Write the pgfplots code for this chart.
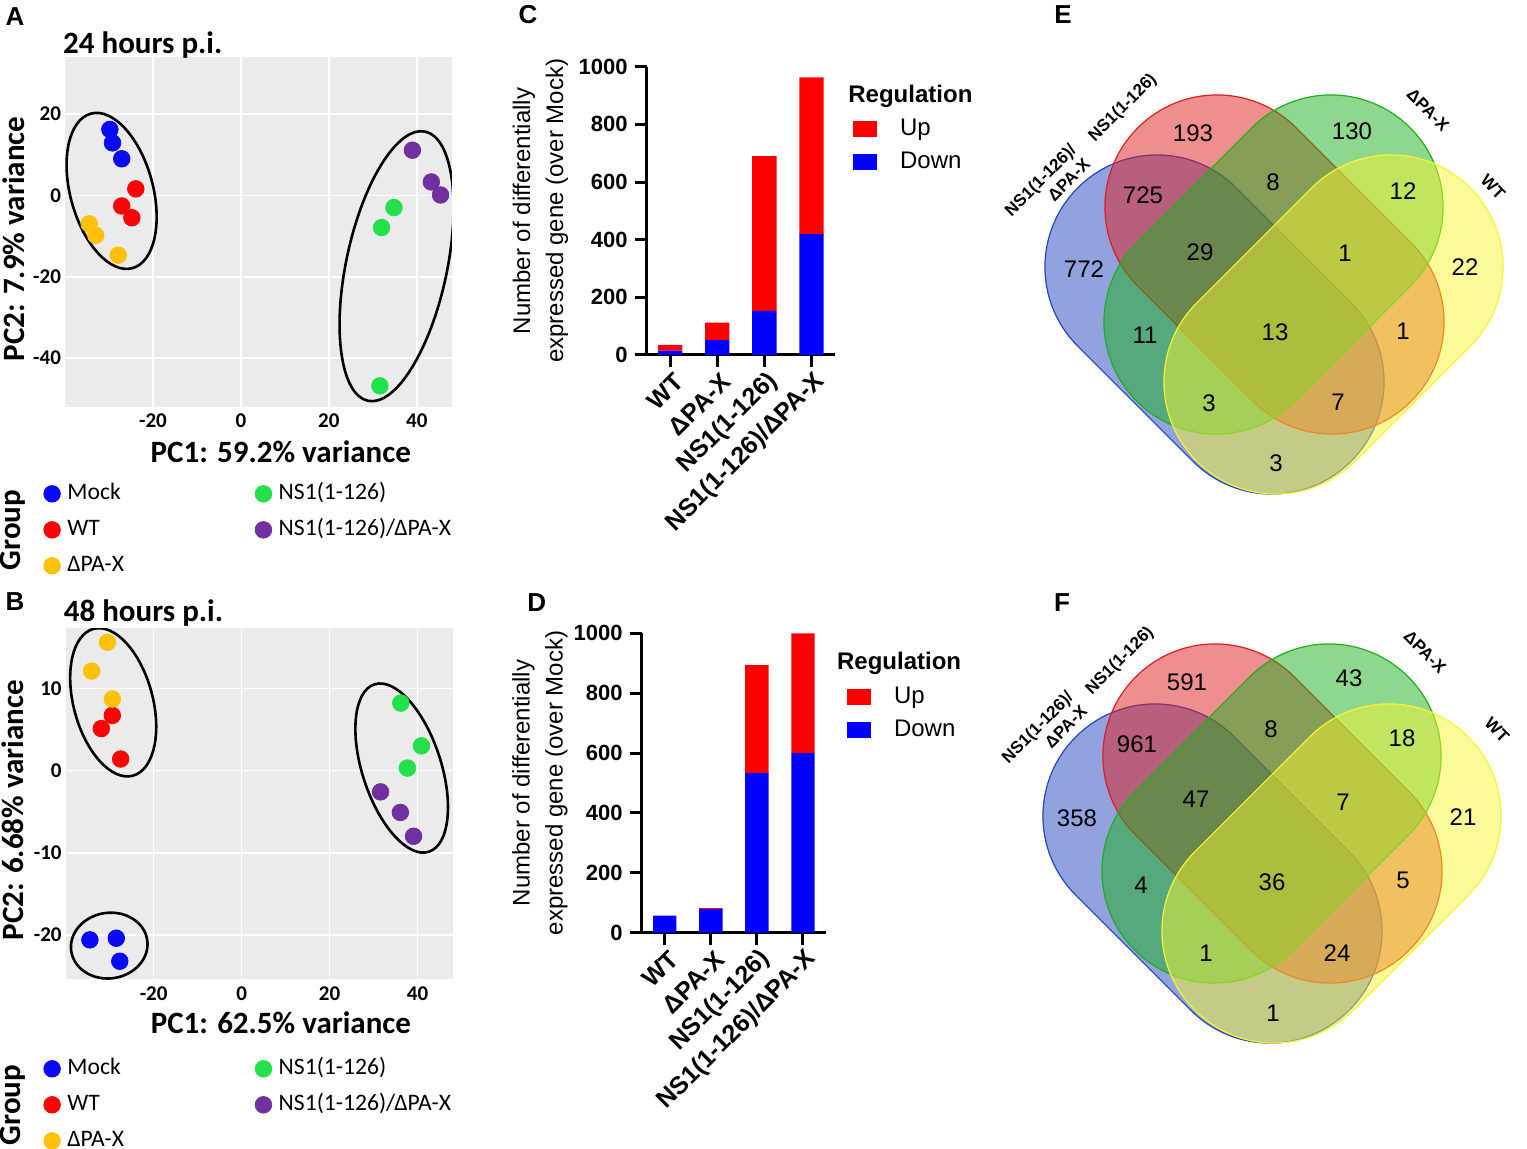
\documentclass[border=0pt]{standalone}
\usepackage{fontspec}
\setmainfont{Liberation Sans}
\newfontfamily\calibri{Carlito}
\usepackage{pgfplots}
\pgfplotsset{compat=1.18}

\definecolor{gmock}{RGB}{10,10,245}
\definecolor{gwt}{RGB}{250,5,5}
\definecolor{gdpax}{RGB}{255,193,10}
\definecolor{gns}{RGB}{35,225,75}
\definecolor{gnsd}{RGB}{112,48,160}
\definecolor{panelbg}{RGB}{235,235,235}
\definecolor{barred}{RGB}{255,0,0}
\definecolor{barblue}{RGB}{0,0,255}
\definecolor{vblue}{RGB}{35,70,190}
\definecolor{vred}{RGB}{222,30,30}
\definecolor{vgreen}{RGB}{30,175,30}
\definecolor{vyellow}{RGB}{245,245,50}

\pgfplotsset{
  pca/.style={
    scale only axis, width=193.5pt,
    xmin=-40, xmax=48,
    axis background/.style={fill=panelbg},
    axis line style={draw=none}, major tick length=0pt,
    grid=major, major grid style={white, line width=0.8pt},
    xtick={-20,0,20,40}, xticklabels={-20,0,20,40},
    tick label style={font=\calibri\bfseries\fontsize{10.5}{12}\selectfont},
    yticklabel style={xshift=1.5pt},
    label style={font=\calibri\bfseries\fontsize{15.5}{18}\selectfont},
    title style={font=\calibri\bfseries\fontsize{15.5}{18}\selectfont, anchor=west},
    legend columns=2, legend cell align=left,
    legend image code/.code={\draw[##1] plot coordinates {(0pt,0pt)};},
    legend style={draw=none, fill=none, inner sep=0pt,
      font=\calibri\fontsize{11.8}{14}\selectfont,
      nodes={text height=8pt, text depth=2.5pt, inner sep=3.5pt},
      row sep=0.5pt,
      /tikz/column 1/.style={column sep=0pt},
      /tikz/column 2/.style={column sep=62pt},
      /tikz/column 3/.style={column sep=0pt}},
  },
  grp/.style={only marks, mark=*, mark size=4.15pt, color=#1},
  bars/.style={
    scale only axis, ybar stacked,
    xmin=-0.5, xmax=3.5, ymin=0, ymax=1000,
    axis x line*=bottom, axis y line*=left,
    axis line style={line width=1.5pt, -},
    xtick={0,1,2,3},
    xticklabels={WT,ΔPA-X,NS1(1-126),NS1(1-126)/ΔPA-X},
    ytick={0,200,400,600,800,1000},
    yticklabels={0,200,400,600,800,1000},
    tick align=outside, major tick length=6pt,
    tick style={line width=1.5pt, black},
    yticklabel style={font=\bfseries\fontsize{11}{13}\selectfont},
    xticklabel style={font=\bfseries\fontsize{12.5}{14}\selectfont,
      rotate=45, anchor=east, yshift=-7pt, xshift=3pt},
    ylabel style={align=center, font=\fontsize{12}{16.5}\selectfont, anchor=center},
    legend cell align=left, reverse legend,
    legend image code/.code={\fill[##1] (0pt,-4pt) rectangle (12pt,4pt);},
    legend style={draw=none, fill=none, inner sep=0pt, anchor=north west,
      font=\fontsize{12}{14}\selectfont,
      nodes={text height=9pt, text depth=2.5pt, inner sep=2.5pt},
      row sep=0pt, /tikz/column 1/.style={column sep=9pt}},
  },
  vnum/.style={only marks, mark=none, nodes near coords,
    point meta=explicit symbolic,
    nodes near coords style={anchor=center, font=\fontsize{12}{14}\selectfont}},
}

% one Venn set: centre of the capsule (px), angle, colour
\newcommand\capsule[4]{%
  \filldraw[shift={(axis cs:#1,#2)}, rotate=#3, draw=#4, fill=#4,
    fill opacity=0.5, line width=0.6pt, rounded corners=55.9pt]
    (-96.65pt,-56pt) rectangle (96.65pt,56pt);}

\begin{document}
\begin{tikzpicture}[x=0.5pt,y=-0.5pt]
\useasboundingbox (0,0) rectangle (1527,1149);

% ---------- A ----------
\begin{axis}[pca, height=175pt, at={(32.5pt,-203.5pt)}, anchor=south west,
    ymin=-52, ymax=34, ytick={-40,-20,0,20}, yticklabels={-40,-20,0,20},
    title={24 hours p.i.},
    title style={at={(axis description cs:-0.023,1.0)}},
    xlabel={PC1: 59.2\% variance},
    xlabel style={at={(axis description cs:0.5576,-0.1277)}, anchor=center},
    ylabel={PC2: 7.9\% variance},
    ylabel style={at={(axis description cs:-0.1336,0.48)}, anchor=center},
    legend style={at={(axis description cs:-0.0558,-0.197)}, anchor=north west}]
\addplot[grp=gmock] coordinates {(-29.8,16.2) (-29.2,12.9) (-27.1,9.0)};
\addlegendentry{Mock}
\addplot[grp=gns] coordinates {(34.8,-3.0) (32.0,-7.9) (31.6,-46.8)};
\addlegendentry{NS1(1-126)}
\addplot[grp=gwt] coordinates {(-23.9,1.6) (-27.1,-2.6) (-24.8,-5.5)};
\addlegendentry{WT}
\addplot[grp=gnsd] coordinates {(39.0,11.1) (43.3,3.3) (45.4,0.1)};
\addlegendentry{NS1(1-126)/ΔPA-X}
\addplot[grp=gdpax] coordinates {(-34.5,-7.0) (-33.0,-9.8) (-27.9,-14.7)};
\addlegendentry{ΔPA-X}
\draw[line width=1.3pt, shift={(axis cs:-29.4,1.1)}, rotate=15]
  (0pt,0pt) ellipse (20.7pt and 40pt);
\draw[line width=1.3pt, shift={(axis cs:35.4,-17.4)}, rotate=-12]
  (0pt,0pt) ellipse (25.2pt and 68.8pt);
\end{axis}

% ---------- B ----------
\begin{axis}[pca, height=175.5pt, at={(32.85pt,-489.65pt)}, anchor=south west,
    ymin=-25.4, ymax=17.3, ytick={-20,-10,0,10}, yticklabels={-20,-10,0,10},
    title={48 hours p.i.},
    title style={at={(axis description cs:-0.023,1.008)}},
    xlabel={PC1: 62.5\% variance},
    xlabel style={at={(axis description cs:0.556,-0.1245)}, anchor=center},
    ylabel={PC2: 6.68\% variance},
    ylabel style={at={(axis description cs:-0.1357,0.482)}, anchor=center},
    legend style={at={(axis description cs:-0.0576,-0.204)}, anchor=north west}]
\addplot[grp=gmock] coordinates {(-34.5,-20.6) (-28.5,-20.4) (-27.7,-23.2)};
\addlegendentry{Mock}
\addplot[grp=gns] coordinates {(36.2,8.2) (40.9,3.0) (37.7,0.3)};
\addlegendentry{NS1(1-126)}
\addplot[grp=gwt] coordinates {(-29.4,6.7) (-31.9,5.1) (-27.5,1.4)};
\addlegendentry{WT}
\addplot[grp=gnsd] coordinates {(31.6,-2.6) (36.1,-5.1) (39.1,-8.0)};
\addlegendentry{NS1(1-126)/ΔPA-X}
\addplot[grp=gdpax] coordinates {(-30.5,15.6) (-34.1,12.1) (-29.4,8.7)};
\addlegendentry{ΔPA-X}
\draw[line width=1.3pt, shift={(axis cs:-29.2,8.3)}, rotate=15]
  (0pt,0pt) ellipse (19.8pt and 38pt);
\draw[line width=1.3pt, shift={(axis cs:36.4,0.3)}, rotate=18]
  (0pt,0pt) ellipse (19.7pt and 44pt);
\draw[line width=1.3pt, shift={(axis cs:-30.1,-21.3)}, rotate=8]
  (0pt,0pt) ellipse (19.2pt and 16.4pt);
\end{axis}

% ---------- C ----------
\begin{axis}[bars, at={(323.35pt,-177.5pt)}, anchor=south west,
    width=94.15pt, height=144.15pt, bar width=12.15pt,
    ylabel={Number of differentially\\expressed gene (over Mock)},
    ylabel style={at={(axis description cs:-0.565,0.5)}},
    legend style={at={(axis description cs:1.094,0.8415)}}]
\addplot[fill=barblue, draw=none] coordinates {(0,15) (1,52) (2,153) (3,419)};
\addlegendentry{Down}
\addplot[fill=barred, draw=none] coordinates {(0,20) (1,60) (2,537) (3,544)};
\addlegendentry{Up}
\end{axis}

% ---------- D ----------
\begin{axis}[bars, at={(320.85pt,-466.35pt)}, anchor=south west,
    width=92.15pt, height=149.7pt, bar width=11.7pt,
    ylabel={Number of differentially\\expressed gene (over Mock)},
    ylabel style={at={(axis description cs:-0.552,0.5)}},
    legend style={at={(axis description cs:1.112,0.844)}}]
\addplot[fill=barblue, draw=none] coordinates {(0,57) (1,79) (2,533) (3,600)};
\addlegendentry{Down}
\addplot[fill=barred, draw=none] coordinates {(0,0) (1,3) (2,361) (3,400)};
\addlegendentry{Up}
\end{axis}

% ---------- E and F (Venn) ----------
\begin{axis}[scale only axis, width=268.5pt, height=574.5pt,
    at={(495pt,0pt)}, anchor=north west,
    xmin=990, xmax=1527, ymin=0, ymax=1149, y dir=reverse,
    hide axis, clip=false]
\capsule{1214.5}{324.5}{-45}{vblue}
\capsule{1274.5}{264.5}{-45}{vred}
\capsule{1273.5}{264.5}{45}{vgreen}
\capsule{1333.5}{324.5}{45}{vyellow}
\capsule{1212.5}{873.5}{-45}{vblue}
\capsule{1272.5}{813.5}{-45}{vred}
\capsule{1271.5}{813.5}{45}{vgreen}
\capsule{1331.5}{873.5}{45}{vyellow}
\addplot[vnum] table[meta=n] {
x y n
1193 133 193
1352 131 130
1143 195 725
1273 182 8
1403 191 12
1084 269 772
1200 252 29
1345 253 1
1465 267 22
1145 335 11
1275 332 13
1403 331 1
1209 403 3
1338 402 7
1276 463 3
};
\addplot[vnum] table[meta=n] {
x y n
1187 682 591
1349 678 43
1137 744 961
1271 729 8
1402 738 18
1077 818 358
1196 799 47
1343 802 7
1463 817 21
1141 885 4
1272 882 36
1403 880 5
1206 953 1
1337 953 24
1273 1013 1
};
\end{axis}

% Venn set names
\begin{scope}[every node/.style={font=\bfseries\fontsize{8.5}{10}\selectfont}]
\node[rotate=45] at (1123,108) {NS1(1-126)};
\node[rotate=45, align=right] at (1047,187) {NS1(1-126)/\\ΔPA-X};
\node[rotate=-45] at (1428,110) {ΔPA-X};
\node[rotate=-45] at (1493,187) {WT};
\node[rotate=45] at (1120,661) {NS1(1-126)};
\node[rotate=45, align=right] at (1044,734) {NS1(1-126)/\\ΔPA-X};
\node[rotate=-45] at (1425,652) {ΔPA-X};
\node[rotate=-45] at (1497,730) {WT};
\end{scope}

% legend titles and group labels
\node[anchor=base west, font=\bfseries\fontsize{12}{14}\selectfont, inner sep=0pt]
  at (848,103) {Regulation};
\node[anchor=base west, font=\bfseries\fontsize{12}{14}\selectfont, inner sep=0pt]
  at (836.7,670) {Regulation};
\node[rotate=90, font=\calibri\bfseries\fontsize{15.5}{18}\selectfont] at (13,530) {Group};
\node[rotate=90, font=\calibri\bfseries\fontsize{15.5}{18}\selectfont] at (13,1105) {Group};

% panel letters
\begin{scope}[every node/.style={font=\bfseries\fontsize{13}{15}\selectfont}]
\node at (15,17) {A};
\node at (15,602) {B};
\node at (528,15) {C};
\node at (536.7,603) {D};
\node at (1063,15) {E};
\node at (1062,603) {F};
\end{scope}
\end{tikzpicture}
\end{document}
